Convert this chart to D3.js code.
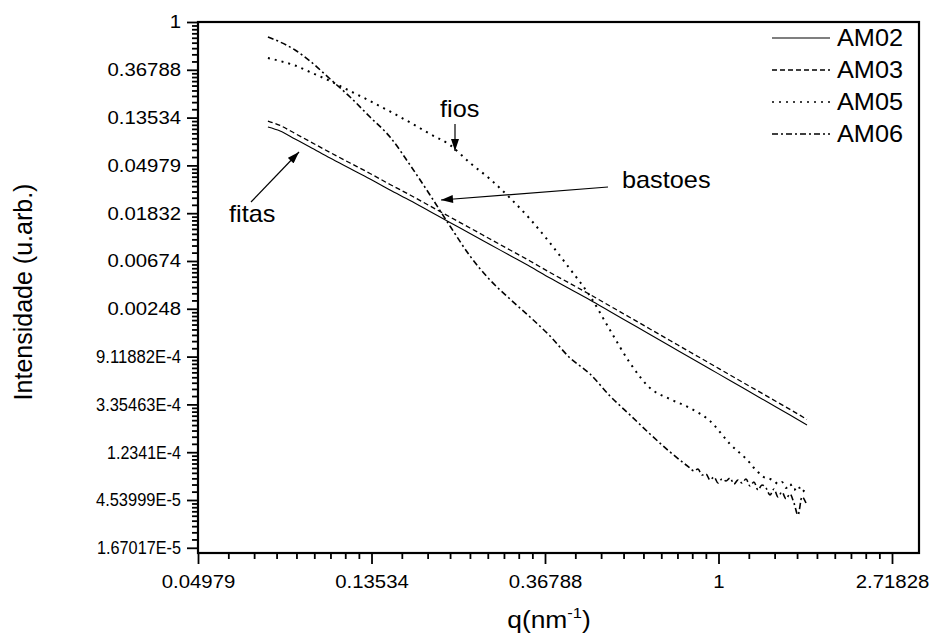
<!DOCTYPE html>
<html>
<head>
<meta charset="utf-8">
<script src="https://cdn.jsdelivr.net/npm/d3@7/dist/d3.min.js"></script>
<style>
  body { margin: 0; background: #fff; }
  svg { display: block; }
  text { font-family: "Liberation Sans", Arial, sans-serif; fill: #000; }
</style>
</head>
<body>
<svg id="chart" width="931" height="639"></svg>
<script>
// ---- data: scattering intensity vs q (log-log, natural-log ticks) ----
const qGrid = [0.0745, 0.0799, 0.0871, 0.0949, 0.1066, 0.1196, 0.1342, 0.1506, 0.1690, 0.1896,
  0.2127, 0.2388, 0.2679, 0.3007, 0.3374, 0.3786, 0.4249, 0.4768, 0.5350, 0.6004,
  0.6738, 0.7562, 0.8485, 0.9522, 1.0685, 1.1991, 1.3456, 1.5100, 1.6654];

const am02I = [0.1112, 0.1023, 0.0865, 0.0732, 0.0581, 0.04666, 0.03746, 0.02976, 0.02389, 0.01898,
  0.01508, 0.01198, 0.00952, 0.00756, 0.006006, 0.004721, 0.003751, 0.002980, 0.002343, 0.001842,
  0.001448, 0.001138, 0.000895, 0.0007035, 0.000553, 0.0004348, 0.0003419, 0.0002687, 0.000218];

const am03I = [0.1260, 0.1148, 0.0971, 0.0821, 0.0652, 0.05235, 0.04204, 0.03340, 0.02681, 0.02130,
  0.01692, 0.01344, 0.01068, 0.00848, 0.00674, 0.00530, 0.00421, 0.00334, 0.002628, 0.002067,
  0.001625, 0.001277, 0.001004, 0.000790, 0.000620, 0.000488, 0.000384, 0.000302, 0.000245];

const am05Q = [0.0745, 0.0799, 0.0871, 0.0949, 0.1066, 0.1196, 0.1342, 0.1506, 0.1690, 0.1896,
  0.2127, 0.2388, 0.2679, 0.3007, 0.3374, 0.3786, 0.4249, 0.4768, 0.5350, 0.6004,
  0.6738, 0.7562, 0.8485, 0.9522, 1.0685,
  1.1990, 1.2270, 1.2556, 1.2849, 1.3149, 1.3455, 1.3769, 1.4090, 1.4418, 1.4754,
  1.5098, 1.5450, 1.5811, 1.6179, 1.6557];
const am05I = [0.4709, 0.4422, 0.4025, 0.3513, 0.2910, 0.2361, 0.1915, 0.1538, 0.1222, 0.0960,
  0.0763, 0.0524, 0.03746, 0.02518, 0.01622, 0.00982, 0.00570, 0.00324, 0.001591, 0.000797,
  0.000473, 0.000375, 0.000311, 0.000237, 0.0001465,
  9.84e-5, 8.87e-5, 8.16e-5, 7.50e-5, 7.19e-5, 7.05e-5, 6.76e-5, 6.35e-5, 6.62e-5, 5.84e-5,
  6.35e-5, 5.60e-5, 6.09e-5, 5.37e-5, 5.84e-5];

const am06Q = [0.0745, 0.0799, 0.0871, 0.0949, 0.1066, 0.1196, 0.1342, 0.1506, 0.1690, 0.1896,
  0.2127, 0.2388, 0.2679, 0.3007, 0.3374, 0.3786, 0.4249, 0.4768, 0.5350, 0.6004,
  0.6738, 0.7562,
  0.8485, 0.8683, 0.8885, 0.9093, 0.9305, 0.9522, 0.9744, 0.9971, 1.0204, 1.0442,
  1.0685, 1.0934, 1.1189, 1.1450, 1.1717, 1.1990, 1.2270, 1.2556, 1.2849, 1.3149,
  1.3455, 1.3769, 1.4090, 1.4418, 1.4754, 1.5098, 1.5450, 1.5811, 1.6179, 1.6557];
const am06I = [0.7307, 0.6581, 0.5567, 0.4422, 0.3035, 0.2082, 0.1370, 0.0902, 0.0502, 0.02681,
  0.01401, 0.00748, 0.00453, 0.00304, 0.002088, 0.001403, 0.000886, 0.000634, 0.000400, 0.000269,
  0.0001806, 0.0001240,
  8.87e-5, 8.33e-5, 8.69e-5, 7.66e-5, 7.82e-5, 6.90e-5, 7.35e-5, 6.48e-5, 7.05e-5, 6.76e-5,
  7.19e-5, 6.35e-5, 6.90e-5, 6.48e-5, 7.05e-5, 6.09e-5, 6.62e-5, 5.60e-5, 6.22e-5, 5.84e-5,
  5.04e-5, 5.72e-5, 4.84e-5, 5.37e-5, 4.64e-5, 5.15e-5, 4.26e-5, 3.31e-5, 4.84e-5, 4.26e-5];

const seriesNames = ["AM02", "AM03", "AM05", "AM06"];

const xTickLabels = ["0.04979", "0.13534", "0.36788", "1", "2.71828"];
const yTickLabels = ["1", "0.36788", "0.13534", "0.04979", "0.01832", "0.00674", "0.00248",
  "9.11882E-4", "3.35463E-4", "1.2341E-4", "4.53999E-5", "1.67017E-5"];

// ---- layout ----
const plotL = 198, plotR = 919, plotT = 22, plotB = 553;
const stretch = 1.1;   // horizontal widening of the label glyphs
// exponent-form tick labels are set tighter than the decimal ones
const expLabelWidth = { "9.11882E-4": 85, "3.35463E-4": 85, "1.2341E-4": 74, "4.53999E-5": 85, "1.67017E-5": 84 };

const svg = d3.select("#chart");

const x = d3.scaleLog().base(Math.E)
  .domain([Math.exp(-3), Math.exp(1.1556)])
  .range([plotL, plotR]);
const y = d3.scaleLog().base(Math.E)
  .domain([Math.exp(-11.109), 1])
  .range([plotB, plotT]);

const xMajor = xTickLabels.map(Number);
const yMajor = yTickLabels.map(Number);

// eight linearly spaced minor ticks between neighbouring major ticks
function minorsBetween(majors) {
  const s = majors.slice().sort((a, b) => a - b);
  const out = [];
  for (let k = 0; k < s.length - 1; k++) {
    const a = s[k], b = s[k + 1];
    for (let j = 1; j <= 8; j++) out.push(a + j * (b - a) / 9);
  }
  return out;
}
const xMinor = minorsBetween(xMajor);
const yMinor = minorsBetween(yMajor);

// ---- axes ----
const gx = svg.append("g").attr("transform", `translate(0,${plotB})`);
gx.append("g").call(d3.axisBottom(x).tickValues(xMinor).tickSize(6).tickFormat(""));
gx.append("g").call(d3.axisBottom(x).tickValues(xMajor).tickSize(11).tickPadding(11)
  .tickFormat((d, i) => xTickLabels[i]));
gx.selectAll(".domain").remove();
gx.selectAll("line").attr("stroke", "#000").attr("stroke-width", 1.8);
gx.selectAll("text").attr("font-size", 18.5).attr("fill", "#000")
  .attr("font-family", "Liberation Sans, Arial, sans-serif")
  .attr("transform", `scale(${stretch},1)`);

const gy = svg.append("g").attr("transform", `translate(${plotL},0)`);
gy.append("g").call(d3.axisLeft(y).tickValues(yMinor).tickSize(6).tickFormat(""));
gy.append("g").call(d3.axisLeft(y).tickValues(yMajor).tickSize(11).tickPadding(6)
  .tickFormat((d, i) => yTickLabels[i]));
gy.selectAll(".domain").remove();
gy.selectAll("line").attr("stroke", "#000").attr("stroke-width", 1.8);
gy.selectAll("text").attr("font-size", 18.5).attr("fill", "#000")
  .attr("font-family", "Liberation Sans, Arial, sans-serif")
  .attr("x", -17 / stretch)
  .attr("transform", `scale(${stretch},1)`)
  .each(function () {
    const t = d3.select(this);
    const w = expLabelWidth[t.text()];
    if (w) t.attr("textLength", w / stretch).attr("lengthAdjust", "spacingAndGlyphs");
  });

// frame
svg.append("rect")
  .attr("x", plotL).attr("y", plotT)
  .attr("width", plotR - plotL).attr("height", plotB - plotT)
  .attr("fill", "none").attr("stroke", "#000").attr("stroke-width", 2.2);

// ---- curves ----
const styles = {
  AM02: { dash: null, width: 1.1 },
  AM03: { dash: "5,3", width: 1.3 },
  AM05: { dash: "2,5", width: 2 },
  AM06: { dash: "6,3,2,3", width: 1.6 }
};

const series = [
  { name: "AM02", pts: qGrid.map((q, i) => ({ q, v: am02I[i] })) },
  { name: "AM03", pts: qGrid.map((q, i) => ({ q, v: am03I[i] })) },
  { name: "AM05", pts: am05Q.map((q, i) => ({ q, v: am05I[i] })) },
  { name: "AM06", pts: am06Q.map((q, i) => ({ q, v: am06I[i] })) }
];

const line = d3.line()
  .x(d => x(d.q))
  .y(d => y(d.v))
  .curve(d3.curveMonotoneX);

svg.append("g").selectAll("path")
  .data(series)
  .join("path")
  .attr("d", d => line(d.pts))
  .attr("fill", "none")
  .attr("stroke", "#000")
  .attr("stroke-width", d => styles[d.name].width)
  .attr("stroke-dasharray", d => styles[d.name].dash);

// ---- legend ----
const legend = svg.append("g");
seriesNames.forEach((name, i) => {
  const ly = 38 + i * 32;
  legend.append("line")
    .attr("x1", 772).attr("x2", 830).attr("y1", ly).attr("y2", ly)
    .attr("stroke", "#000")
    .attr("stroke-width", Math.min(styles[name].width, 1.4))
    .attr("stroke-dasharray", styles[name].dash);
  legend.append("text")
    .attr("transform", `translate(837,${ly + 8}) scale(${stretch},1)`)
    .attr("font-size", 23)
    .text(name);
});

// ---- axis titles ----
const xt = svg.append("text")
  .attr("transform", `translate(549,628) scale(${stretch},1)`)
  .attr("text-anchor", "middle")
  .attr("font-size", 24);
xt.append("tspan").text("q(nm");
xt.append("tspan").attr("font-size", 15).attr("dy", -10).text("-1");
xt.append("tspan").attr("dy", 10).text(")");

svg.append("text")
  .attr("transform", "translate(32,292) rotate(-90)")
  .attr("text-anchor", "middle")
  .attr("font-size", 25)
  .text("Intensidade (u.arb.)");

// ---- annotations ----
const defs = svg.append("defs");
defs.append("marker")
  .attr("id", "head")
  .attr("viewBox", "0 0 12 8")
  .attr("refX", 12).attr("refY", 4)
  .attr("markerWidth", 13).attr("markerHeight", 8)
  .attr("markerUnits", "userSpaceOnUse")
  .attr("orient", "auto")
  .append("path").attr("d", "M0,0 L12,4 L0,8 Z").attr("fill", "#000");

const notes = [
  { text: "fios", tx: 440, ty: 117, from: [455, 124], to: [455, 151] },
  { text: "bastoes", tx: 622, ty: 188, from: [608, 187], to: [441, 200] },
  { text: "fitas", tx: 229, ty: 222, from: [251, 202], to: [299, 152] }
];
notes.forEach(n => {
  svg.append("line")
    .attr("x1", n.from[0]).attr("y1", n.from[1])
    .attr("x2", n.to[0]).attr("y2", n.to[1])
    .attr("stroke", "#000").attr("stroke-width", 1.2)
    .attr("marker-end", "url(#head)");
  svg.append("text")
    .attr("transform", `translate(${n.tx},${n.ty}) scale(${stretch},1)`)
    .attr("font-size", 23)
    .text(n.text);
});
</script>
</body>
</html>
